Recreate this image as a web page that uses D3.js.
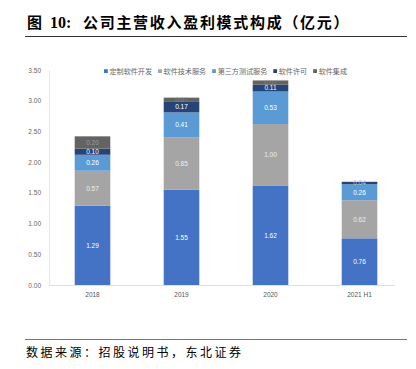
<!DOCTYPE html>
<html><head><meta charset="utf-8">
<script src="https://cdn.jsdelivr.net/npm/d3@7"></script>
<style>body{margin:0;background:#fff;}svg{display:block;}</style>
</head><body>
<svg id="c" width="416" height="369"></svg>
<script>
const categories = ["2018", "2019", "2020", "2021 H1"];
const seriesNames = ["定制软件开发", "软件技术服务", "第三方测试服务", "软件许可", "软件集成"];
const customDev = [1.29, 1.55, 1.62, 0.76];
const techService = [0.57, 0.85, 1.00, 0.62];
const thirdTest = [0.26, 0.41, 0.53, 0.26];
const license = [0.10, 0.17, 0.11, 0.04];
const integration = [0.20, 0.07, 0.07, 0.00];
const yTicks = [0, 0.5, 1, 1.5, 2, 2.5, 3, 3.5];
const colors = ["#4472C4", "#A5A5A5", "#5B9BD5", "#264478", "#636363"];

const svg = d3.select("#c");
const table = categories.map((c, i) => ({cat: c, s0: customDev[i], s1: techService[i], s2: thirdTest[i], s3: license[i], s4: integration[i]}));
const keys = ["s0","s1","s2","s3","s4"];
const stack = d3.stack().keys(keys)(table);

const x = d3.scaleBand().domain(categories).range([48, 404]).paddingInner(0.6).paddingOuter(0.3);
const y = d3.scaleLinear().domain([0, 3.5]).range([285, 70]);

// title
const t = svg.append("text").attr("x", 27).attr("y", 28).attr("font-size", 15).attr("font-weight", "bold").attr("fill", "#000");
t.append("tspan").attr("font-family", "Noto Sans CJK SC").text("图");
t.append("tspan").attr("x", 50).attr("font-family", "Liberation Serif").attr("font-size", 16).text("10:");
t.append("tspan").attr("x", 83).attr("font-family", "Noto Sans CJK SC").attr("letter-spacing", 1.7).text("公司主营收入盈利模式构成（亿元）");
svg.append("line").attr("x1", 25).attr("x2", 407).attr("y1", 36.5).attr("y2", 36.5).attr("stroke", "#333").attr("stroke-width", 1.2);

// axes
const yAxis = svg.append("g").attr("transform", "translate(49,0)")
  .call(d3.axisLeft(y).tickValues(yTicks).tickFormat(d3.format(".2f")).tickSize(0).tickPadding(8));
yAxis.select(".domain").attr("stroke", "#e6e6e6");
yAxis.selectAll("text").attr("font-family", "Liberation Sans").attr("font-size", 6.5).attr("fill", "#666");

const xAxis = svg.append("g").attr("transform", "translate(0,285)")
  .call(d3.axisBottom(x).tickSize(0).tickPadding(7));
xAxis.select(".domain").attr("stroke", "#e0e0e0").attr("d", "M49,0.5H395");
xAxis.selectAll("text").attr("font-family", "Liberation Sans").attr("font-size", 6.5).attr("fill", "#555");

// bars
const layers = svg.append("g").selectAll("g").data(stack).join("g").attr("fill", (d, i) => colors[i]);
layers.selectAll("rect").data(d => d).join("rect")
  .attr("x", d => x(d.data.cat))
  .attr("width", x.bandwidth())
  .attr("y", d => y(d[1]))
  .attr("height", d => Math.max(0, y(d[0]) - y(d[1])));

// labels
stack.forEach((layer, li) => {
  svg.append("g").selectAll("text").data(layer.filter(d => d[1] - d[0] > 0)).join("text")
    .attr("x", d => x(d.data.cat) + x.bandwidth() / 2)
    .attr("y", d => (y(d[0]) + y(d[1])) / 2 + 2.3)
    .attr("text-anchor", "middle")
    .attr("font-family", "Liberation Sans").attr("font-size", 6.5)
    .attr("fill", d => li === 4 ? "#9a9a9a" : (li === 1 ? "#eeeeee" : ((d[1] - d[0]) < 0.06 ? "#b8c4dc" : "#ffffff")))
    .attr("opacity", d => (li === 4 && (d[1] - d[0]) < 0.08) ? 0.6 : 1)
    .text(d => d3.format(".2f")(d[1] - d[0]));
});

// legend
const legend = svg.append("g").attr("transform", "translate(104,73)");
let lx = 0;
seriesNames.forEach((n, i) => {
  const g = legend.append("g").attr("transform", `translate(${lx},0)`);
  g.append("rect").attr("x", 0).attr("y", -3.8).attr("width", 3.8).attr("height", 3.8).attr("fill", colors[i]);
  const tx = g.append("text").attr("x", 5.5).attr("y", 0.8).attr("font-family", "Noto Sans CJK SC").attr("font-size", 7.1).attr("fill", "#666").text(n);
  lx += 5.5 + tx.node().getComputedTextLength() + 6;
});

// footer
svg.append("line").attr("x1", 25).attr("x2", 407).attr("y1", 339.5).attr("y2", 339.5).attr("stroke", "#777").attr("stroke-width", 1);
svg.append("text").attr("x", 26).attr("y", 357).attr("font-family", "Noto Sans CJK SC").attr("font-size", 12).attr("letter-spacing", 2.5).attr("fill", "#000").text("数据来源：招股说明书，东北证券");
</script>
</body></html>
